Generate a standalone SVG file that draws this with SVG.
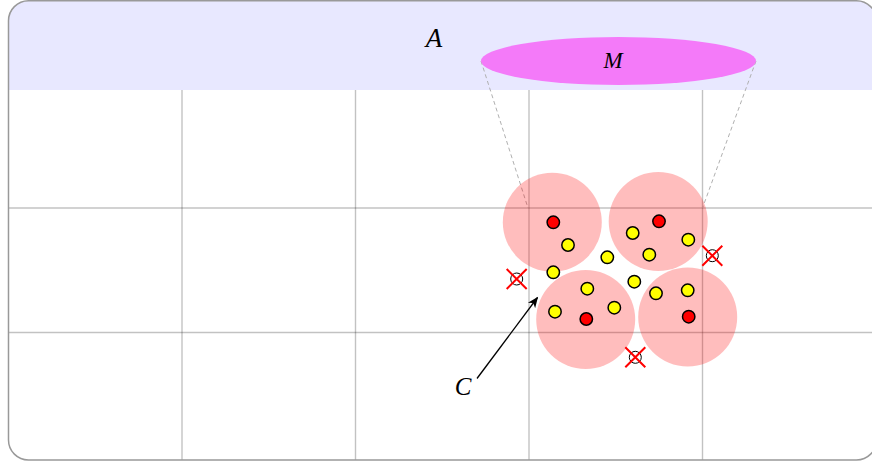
<svg xmlns="http://www.w3.org/2000/svg" width="872" height="463" viewBox="0 0 872 463">
<style>
.grid{stroke:#000;stroke-opacity:0.24;stroke-width:1.4;fill:none}
.dash{stroke:#b0b0b0;stroke-width:1;stroke-dasharray:4 3;fill:none}
.zone{fill:#ff0000;fill-opacity:0.26}
.red{fill:#ff0000;stroke:#000;stroke-width:1.5}
.yel{fill:#ffff00;stroke:#000;stroke-width:1.5}
.open{fill:#fff;stroke:#000;stroke-width:1}
.x{stroke:#ff0000;stroke-width:2;fill:none}
.lbl{font-family:"Liberation Serif","DejaVu Serif",serif;font-style:italic;fill:#000;text-anchor:middle}
</style>
<defs>
<clipPath id="frameClip"><rect x="8.5" y="0.75" width="868" height="459.25" rx="20" ry="20"/></clipPath>
<marker id="arr" markerWidth="12" markerHeight="10" refX="10" refY="5" orient="auto" markerUnits="userSpaceOnUse">
<path d="M0,0.5 L11,5 L0,9.5 L3,5 Z" fill="#000"/>
</marker>
<g id="xmark"><circle class="open" cx="0" cy="0" r="6"/><path class="x" d="M-10,-10 L10,10 M-10,10 L10,-10"/></g>
</defs>
<g id="frame-bg" clip-path="url(#frameClip)">
<rect x="0" y="0" width="880" height="463" fill="#fff"/>
<rect x="0" y="0" width="880" height="90" fill="#e8e8ff"/>
<g id="grid">
<line class="grid" x1="182" y1="90" x2="182" y2="463"/>
<line class="grid" x1="355.5" y1="90" x2="355.5" y2="463"/>
<line class="grid" x1="529" y1="90" x2="529" y2="463"/>
<line class="grid" x1="702.5" y1="90" x2="702.5" y2="463"/>
<line class="grid" x1="0" y1="208" x2="880" y2="208"/>
<line class="grid" x1="0" y1="332.5" x2="880" y2="332.5"/>
</g>
</g>
<g id="connectors">
<line class="dash" x1="481" y1="61" x2="528" y2="208"/>
<line class="dash" x1="756" y1="61" x2="702.5" y2="208"/>
<line x1="477" y1="378.5" x2="537.5" y2="297.5" stroke="#000" stroke-width="1.3" marker-end="url(#arr)"/>
</g>
<g id="A"><text class="lbl" x="434" y="47" font-size="27">A</text></g>
<g id="M">
<ellipse cx="618.5" cy="61" rx="137.5" ry="24" fill="#f47af9"/>
<text class="lbl" x="613" y="68" font-size="23">M</text>
</g>
<g id="zones">
<circle class="zone" cx="552.3" cy="222.2" r="49.5"/>
<circle class="zone" cx="658.2" cy="221.5" r="49.5"/>
<circle class="zone" cx="585.7" cy="319.5" r="49.5"/>
<circle class="zone" cx="687.7" cy="317" r="49.5"/>
</g>
<g id="red-points">
<circle class="red" cx="553.3" cy="222.3" r="6.2"/>
<circle class="red" cx="659" cy="221.3" r="6.2"/>
<circle class="red" cx="586.3" cy="319" r="6.2"/>
<circle class="red" cx="688.7" cy="316.7" r="6.2"/>
</g>
<g id="yellow-points">
<circle class="yel" cx="568" cy="245" r="6.2"/>
<circle class="yel" cx="553.3" cy="272.3" r="6.2"/>
<circle class="yel" cx="607.3" cy="257.3" r="6.2"/>
<circle class="yel" cx="632.7" cy="233" r="6.2"/>
<circle class="yel" cx="649.3" cy="254.7" r="6.2"/>
<circle class="yel" cx="688.3" cy="239.7" r="6.2"/>
<circle class="yel" cx="634.3" cy="281.7" r="6.2"/>
<circle class="yel" cx="656" cy="293.3" r="6.2"/>
<circle class="yel" cx="687.7" cy="290.3" r="6.2"/>
<circle class="yel" cx="587.3" cy="288.7" r="6.2"/>
<circle class="yel" cx="555" cy="311.7" r="6.2"/>
<circle class="yel" cx="614.3" cy="307.7" r="6.2"/>
</g>
<g id="removed-points">
<use href="#xmark" x="516.7" y="279"/>
<use href="#xmark" x="712.3" y="255.7"/>
<use href="#xmark" x="635.3" y="357.3"/>
</g>
<g id="C"><text class="lbl" x="463" y="395" font-size="25">C</text></g>
<rect id="frame" x="8.5" y="0.75" width="868" height="459.25" rx="20" ry="20" fill="none" stroke="#999" stroke-width="1.5"/>
</svg>
